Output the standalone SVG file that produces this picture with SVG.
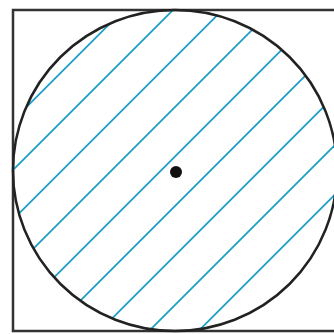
<svg xmlns="http://www.w3.org/2000/svg" width="334" height="334" viewBox="0 0 334 334">
  <style>
    .hatch { stroke: #1d9ec6; stroke-width: 1.8; fill: none; }
    .frame { fill: none; stroke: #333333; stroke-width: 2.5; }
    .outline { fill: none; stroke: #222222; stroke-width: 2.5; }
  </style>
  <defs>
    <clipPath id="disc">
      <ellipse cx="175" cy="170.5" rx="162" ry="160.5"/>
    </clipPath>
  </defs>
  <rect x="0" y="0" width="334" height="334" fill="#ffffff"/>
  <g id="square">
    <rect class="frame" x="13" y="10" width="324" height="321"/>
  </g>
  <g id="hatching" clip-path="url(#disc)">
    <line class="hatch" x1="-100" y1="233.5" x2="233.5" y2="-100"/>
    <line class="hatch" x1="-100" y1="283" x2="283" y2="-100"/>
    <line class="hatch" x1="-100" y1="332.5" x2="332.5" y2="-100"/>
    <line class="hatch" x1="-100" y1="382" x2="382" y2="-100"/>
    <line class="hatch" x1="-100" y1="431.5" x2="431.5" y2="-100"/>
    <line class="hatch" x1="-100" y1="481" x2="481" y2="-100"/>
    <line class="hatch" x1="-100" y1="530.5" x2="530.5" y2="-100"/>
    <line class="hatch" x1="-100" y1="580" x2="580" y2="-100"/>
    <line class="hatch" x1="-100" y1="629.5" x2="629.5" y2="-100"/>
  </g>
  <g id="circle">
    <ellipse class="outline" cx="175" cy="170.5" rx="162" ry="160.5"/>
  </g>
  <g id="center">
    <circle cx="176" cy="172" r="6" fill="#111111"/>
  </g>
</svg>
